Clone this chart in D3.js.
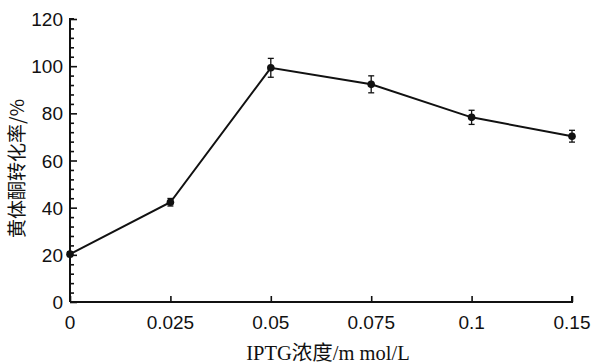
<!DOCTYPE html>
<html>
<head>
<meta charset="utf-8">
<script src="https://cdn.jsdelivr.net/npm/d3@7"></script>
<style>
  body { margin: 0; background: #fff; }
  svg { display: block; }
  .tick-label { font-family: "Liberation Sans", Arial, sans-serif; font-size: 19px; fill: #111; }
</style>
</head>
<body>
<svg id="chart" width="593" height="364"></svg>
<script>
const concentrations = ['0', '0.025', '0.05', '0.075', '0.1', '0.15'];
const conversion = [20.3, 42.3, 99.3, 92.3, 78.3, 70.3];
const errors = [1.0, 1.6, 4.0, 3.6, 3.0, 2.5];
const yTicks = [0, 20, 40, 60, 80, 100, 120];

const svg = d3.select('#chart');
const m = { left: 70, right: 572, top: 19, bottom: 302 };

const x = d3.scalePoint().domain(concentrations).range([m.left, m.right]).padding(0);
const y = d3.scaleLinear().domain([0, 120]).range([m.bottom, m.top]);

const pts = concentrations.map((c, i) => ({ c, v: conversion[i], e: errors[i] }));

// y axis: inward major + minor ticks
const yAxis = svg.append('g').attr('transform', `translate(${m.left},0)`)
  .call(d3.axisRight(y).tickValues(d3.range(0, 121, 4)).tickSize(4).tickFormat(''));
yAxis.selectAll('.tick line').attr('stroke', '#111').attr('stroke-width', 1.6)
  .attr('x2', d => d % 20 === 0 ? 7 : 4);
yAxis.select('.domain').attr('d', `M4,${m.top}H0V${m.bottom}`).attr('stroke', '#111').attr('stroke-width', 2);

svg.append('g').selectAll('text').data(yTicks).join('text')
  .attr('class', 'tick-label')
  .attr('x', m.left - 7).attr('y', d => y(d) + 7)
  .attr('text-anchor', 'end')
  .text(d => d);

// x axis: inward ticks
const xAxis = svg.append('g').attr('transform', `translate(0,${m.bottom})`)
  .call(d3.axisTop(x).tickSize(6).tickFormat(''));
xAxis.selectAll('.tick line').attr('stroke', '#111').attr('stroke-width', 1.6);
xAxis.select('.domain').attr('d', `M${m.left},0H${m.right}V-6`).attr('stroke', '#111').attr('stroke-width', 2);

svg.append('g').selectAll('text').data(concentrations).join('text')
  .attr('class', 'tick-label')
  .attr('x', d => x(d)).attr('y', m.bottom + 27)
  .attr('text-anchor', 'middle')
  .text(d => d);

// line
svg.append('path').datum(pts)
  .attr('fill', 'none').attr('stroke', '#111').attr('stroke-width', 2)
  .attr('d', d3.line().x(d => x(d.c)).y(d => y(d.v)));

// error bars
const eb = svg.append('g').attr('stroke', '#111').attr('stroke-width', 1.3);
eb.selectAll('.v').data(pts).join('line')
  .attr('x1', d => x(d.c)).attr('x2', d => x(d.c))
  .attr('y1', d => y(d.v - d.e)).attr('y2', d => y(d.v + d.e));
eb.selectAll('.t').data(pts).join('line')
  .attr('x1', d => x(d.c) - 3).attr('x2', d => x(d.c) + 3)
  .attr('y1', d => y(d.v + d.e)).attr('y2', d => y(d.v + d.e));
eb.selectAll('.b').data(pts).join('line')
  .attr('x1', d => x(d.c) - 3).attr('x2', d => x(d.c) + 3)
  .attr('y1', d => y(d.v - d.e)).attr('y2', d => y(d.v - d.e));

// markers
svg.append('g').selectAll('circle').data(pts).join('circle')
  .attr('cx', d => x(d.c)).attr('cy', d => y(d.v)).attr('r', 3.8)
  .attr('fill', '#111');

// axis titles
svg.append('text')
  .attr('x', 328).attr('y', 360)
  .attr('text-anchor', 'middle')
  .style('font-family', '"Liberation Serif", "Times New Roman", "Noto Sans CJK SC", serif')
  .style('font-size', '20.5px').style('fill', '#111')
  .text('IPTG浓度/m mol/L');

svg.append('text')
  .attr('transform', `translate(24,${(m.top + m.bottom) / 2 + 8}) rotate(-90)`)
  .attr('text-anchor', 'middle')
  .style('font-family', '"Noto Sans CJK SC", sans-serif')
  .style('font-size', '19px').style('fill', '#111')
  .text('黄体酮转化率/%');
</script>
</body>
</html>
